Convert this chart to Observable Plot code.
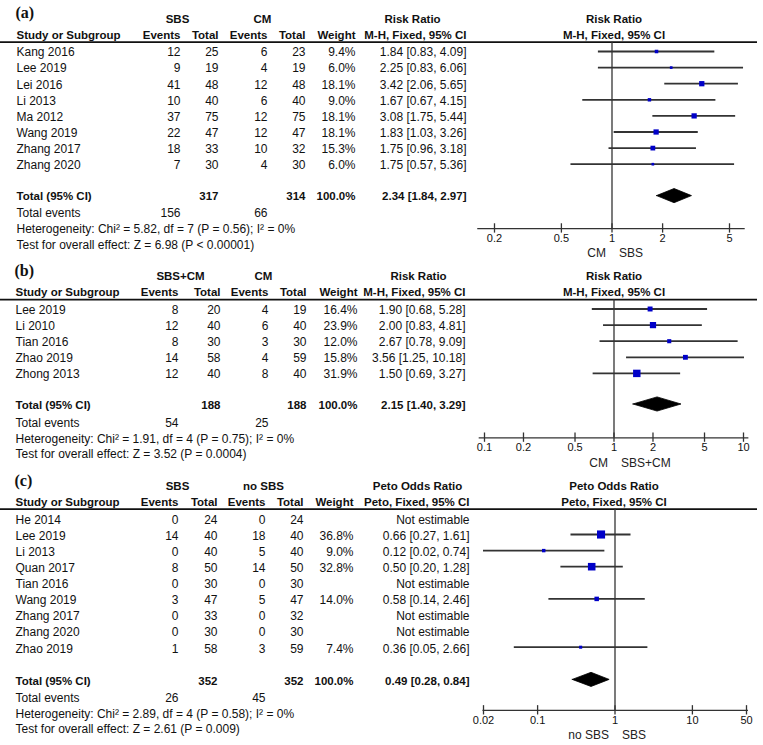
<!DOCTYPE html>
<html>
<head>
<meta charset="utf-8">
<script src="https://cdn.jsdelivr.net/npm/d3@7"></script>
<script src="https://cdn.jsdelivr.net/npm/@observablehq/plot@0.6"></script>
<style>
  html, body { margin: 0; padding: 0; background: #fff; }
  #fig { position: relative; width: 763px; height: 745px; overflow: hidden; background: #fff; }
  .panel { position: absolute; left: 0; width: 763px; }
  .panel svg { position: absolute; top: 0; }
</style>
</head>
<body>
<div id="fig"></div>
<script>
// ---------------- Panel (a) data ----------------
const studiesA   = ["Kang 2016", "Lee 2019", "Lei 2016", "Li 2013", "Ma 2012", "Wang 2019", "Zhang 2017", "Zhang 2020"];
const ev1A       = [12, 9, 41, 10, 37, 22, 18, 7];
const n1A        = [25, 19, 48, 40, 75, 47, 33, 30];
const ev2A       = [6, 4, 12, 6, 12, 12, 10, 4];
const n2A        = [23, 19, 48, 40, 75, 47, 32, 30];
const weightA    = [9.4, 6.0, 18.1, 9.0, 18.1, 18.1, 15.3, 6.0];
const estA       = [1.84, 2.25, 3.42, 1.67, 3.08, 1.83, 1.75, 1.75];
const loA        = [0.83, 0.83, 2.06, 0.67, 1.75, 1.03, 0.96, 0.57];
const hiA        = [4.09, 6.06, 5.65, 4.15, 5.44, 3.26, 3.18, 5.36];
const totalsA    = [317, 314];
const totEventsA = [156, 66];
const pooledA    = [2.34, 1.84, 2.97];
const hetA       = "Heterogeneity: Chi² = 5.82, df = 7 (P = 0.56); I² = 0%";
const testA      = "Test for overall effect: Z = 6.98 (P < 0.00001)";
const ticksA     = [0.2, 0.5, 1, 2, 5];
const tickLabelsA = ["0.2", "0.5", "1", "2", "5"];

// ---------------- Panel (b) data ----------------
const studiesB   = ["Lee 2019", "Li 2010", "Tian 2016", "Zhao 2019", "Zhong 2013"];
const ev1B       = [8, 12, 8, 14, 12];
const n1B        = [20, 40, 30, 58, 40];
const ev2B       = [4, 6, 3, 4, 8];
const n2B        = [19, 40, 30, 59, 40];
const weightB    = [16.4, 23.9, 12.0, 15.8, 31.9];
const estB       = [1.90, 2.00, 2.67, 3.56, 1.50];
const loB        = [0.68, 0.83, 0.78, 1.25, 0.69];
const hiB        = [5.28, 4.81, 9.09, 10.18, 3.27];
const totalsB    = [188, 188];
const totEventsB = [54, 25];
const pooledB    = [2.15, 1.40, 3.29];
const hetB       = "Heterogeneity: Chi² = 1.91, df = 4 (P = 0.75); I² = 0%";
const testB      = "Test for overall effect: Z = 3.52 (P = 0.0004)";
const ticksB     = [0.1, 0.2, 0.5, 1, 2, 5, 10];
const tickLabelsB = ["0.1", "0.2", "0.5", "1", "2", "5", "10"];

// ---------------- Panel (c) data ----------------
const studiesC   = ["He 2014", "Lee 2019", "Li 2013", "Quan 2017", "Tian 2016", "Wang 2019", "Zhang 2017", "Zhang 2020", "Zhao 2019"];
const ev1C       = [0, 14, 0, 8, 0, 3, 0, 0, 1];
const n1C        = [24, 40, 40, 50, 30, 47, 33, 30, 58];
const ev2C       = [0, 18, 5, 14, 0, 5, 0, 0, 3];
const n2C        = [24, 40, 40, 50, 30, 47, 32, 30, 59];
const weightC    = [null, 36.8, 9.0, 32.8, null, 14.0, null, null, 7.4];
const estC       = [null, 0.66, 0.12, 0.50, null, 0.58, null, null, 0.36];
const loC        = [null, 0.27, 0.02, 0.20, null, 0.14, null, null, 0.05];
const hiC        = [null, 1.61, 0.74, 1.28, null, 2.46, null, null, 2.66];
const totalsC    = [352, 352];
const totEventsC = [26, 45];
const pooledC    = [0.49, 0.28, 0.84];
const hetC       = "Heterogeneity: Chi² = 2.89, df = 4 (P = 0.58); I² = 0%";
const testC      = "Test for overall effect: Z = 2.61 (P = 0.009)";
const ticksC     = [0.02, 0.1, 1, 10, 50];
const tickLabelsC = ["0.02", "0.1", "1", "10", "50"];

// ---------------- Layout ----------------
const ROW = 16.1;
const LEFT_W = 470, RIGHT_W = 293;
const SANS = "Liberation Sans, Arial, sans-serif";
const INK = "#111";
const FS = 12, FS_BOLD = 11.5, FS_TICK = 11;

function drawPanel(cfg) {
  const fig = document.getElementById("fig");
  const div = document.createElement("div");
  div.className = "panel";
  div.style.top = cfg.top + "px";
  div.style.height = cfg.height + "px";
  fig.appendChild(div);

  const n = cfg.studies.length;
  const rT = n + cfg.totalGap;
  const axisRow = rT + cfg.axisGap;
  const y0 = cfg.y0 - cfg.top;
  const yScale = {domain: [0, 1], range: [y0, y0 + ROW], axis: null};
  const header1Row = -2.08, header2Row = -1.08, lineRow = -0.58, labelRow = -2.45;

  const rows = cfg.studies.map((s, i) => ({
    row: i, study: s, e1: cfg.ev1[i], n1: cfg.n1[i], e2: cfg.ev2[i], n2: cfg.n2[i],
    w: cfg.weight[i], est: cfg.est[i], lo: cfg.lo[i], hi: cfg.hi[i]
  }));
  const f2 = v => v.toFixed(2);
  const ciText = (e, l, h) => e == null ? "Not estimable" : `${f2(e)} [${f2(l)}, ${f2(h)}]`;
  const C = cfg.cols;

  // table cells
  const cells = [];
  const add = (x, row, text, anchor, bold) => cells.push({x, row, text: String(text), anchor, bold});
  add(C.g1, header1Row, cfg.group1, "middle", true);
  add(C.g2, header1Row, cfg.group2, "middle", true);
  add(C.measure, header1Row, cfg.measure, "middle", true);
  add(C.study, header2Row, "Study or Subgroup", "start", true);
  add(C.e1, header2Row, "Events", "end", true);
  add(C.n1, header2Row, "Total", "end", true);
  add(C.e2, header2Row, "Events", "end", true);
  add(C.n2, header2Row, "Total", "end", true);
  add(C.w, header2Row, "Weight", "end", true);
  add(C.ci, header2Row, cfg.method, "end", true);
  rows.forEach(d => {
    add(C.study, d.row, d.study, "start", false);
    add(C.e1, d.row, d.e1, "end", false);
    add(C.n1, d.row, d.n1, "end", false);
    add(C.e2, d.row, d.e2, "end", false);
    add(C.n2, d.row, d.n2, "end", false);
    if (d.w != null) add(C.w, d.row, d.w.toFixed(1) + "%", "end", false);
    add(C.ci, d.row, ciText(d.est, d.lo, d.hi), "end", false);
  });
  add(C.study, rT, "Total (95% CI)", "start", true);
  add(C.n1, rT, cfg.totals[0], "end", true);
  add(C.n2, rT, cfg.totals[1], "end", true);
  add(C.w, rT, "100.0%", "end", true);
  add(C.ci, rT, ciText(cfg.pooled[0], cfg.pooled[1], cfg.pooled[2]), "end", true);
  add(C.study, rT + cfg.evGap, "Total events", "start", false);
  add(C.e1, rT + cfg.evGap, cfg.totEvents[0], "end", false);
  add(C.e2, rT + cfg.evGap, cfg.totEvents[1], "end", false);
  add(C.study, rT + cfg.hetGap, cfg.het, "start", false);
  add(C.study, rT + cfg.testGap, cfg.test, "start", false);

  const textMarks = [];
  for (const anchor of ["start", "middle", "end"]) {
    for (const bold of [false, true]) {
      const sub = cells.filter(c => c.anchor === anchor && c.bold === bold);
      if (!sub.length) continue;
      textMarks.push(Plot.text(sub, {
        x: "x", y: "row", text: "text", textAnchor: anchor,
        fontWeight: bold ? "bold" : "normal", fontSize: bold ? FS_BOLD : FS, fontFamily: SANS,
        fill: INK, dy: cfg.dy
      }));
    }
  }

  const left = Plot.plot({
    width: LEFT_W, height: cfg.height,
    marginLeft: 0, marginRight: 0, marginTop: 0, marginBottom: 0,
    style: {fontFamily: SANS, fontSize: "12px", background: "transparent", overflow: "visible"},
    x: {domain: [0, LEFT_W], range: [0, LEFT_W], axis: null},
    y: yScale,
    marks: [
      Plot.ruleY([lineRow], {stroke: INK, strokeWidth: 1.7}),
      Plot.text([cfg.label], {x: C.study - 1, y: labelRow, textAnchor: "start",
        fontFamily: "Liberation Serif, Times New Roman, serif", fontWeight: "bold",
        fontSize: 16, fill: INK, dy: cfg.dy}),
      ...textMarks
    ]
  });
  left.style.left = "0px";
  div.appendChild(left);

  // forest
  const withEst = rows.filter(d => d.est != null);
  const [pe, pl, ph] = cfg.pooled;
  const DH = 0.44;
  const diamond = [
    {x: pl, y: rT}, {x: pe, y: rT - DH}, {x: ph, y: rT}, {x: pe, y: rT + DH}, {x: pl, y: rT}
  ];
  const tickData = cfg.ticks.map((t, i) => ({t, label: cfg.tickLabels[i]}));

  const right = Plot.plot({
    width: RIGHT_W, height: cfg.height,
    marginLeft: 0, marginRight: 6, marginTop: 0, marginBottom: 0,
    style: {fontFamily: SANS, fontSize: "12px", background: "transparent", overflow: "visible"},
    x: {type: "log", domain: cfg.xDomain, range: cfg.xRange, axis: null},
    y: yScale,
    r: {type: "pow", exponent: 0.61, domain: [0, 40], range: [0, 4.82]},
    marks: [
      Plot.text([cfg.measure], {frameAnchor: "middle", y: header1Row, fontWeight: "bold",
        fontSize: FS_BOLD, fontFamily: SANS, fill: INK, dy: cfg.dy}),
      Plot.text([cfg.method], {frameAnchor: "middle", y: header2Row, fontWeight: "bold",
        fontSize: FS_BOLD, fontFamily: SANS, fill: INK, dy: cfg.dy}),
      Plot.ruleY([lineRow], {stroke: INK, strokeWidth: 1.7}),
      Plot.ruleX([1], {y1: lineRow, y2: axisRow, stroke: "#333", strokeWidth: 1.3}),
      Plot.ruleY(withEst, {y: "row", x1: "lo", x2: "hi", stroke: "#333", strokeWidth: 1.8}),
      Plot.dot(withEst, {x: "est", y: "row", r: "w", symbol: "square", fill: "#0000c8", stroke: "none"}),
      Plot.line(diamond, {x: "x", y: "y", fill: "#000", stroke: "#000", strokeWidth: 0.8}),
      Plot.ruleY([axisRow], {x1: cfg.axisExtent[0], x2: cfg.axisExtent[1], stroke: "#333", strokeWidth: 1.3}),
      Plot.ruleX(tickData, {x: "t", y1: axisRow - 0.3, y2: axisRow + 0.28, stroke: "#333", strokeWidth: 1.3}),
      Plot.text(tickData, {x: "t", y: axisRow + 0.6, text: "label", fontSize: FS_TICK, fontFamily: SANS, fill: INK}),
      Plot.text([cfg.favL], {x: 1, y: axisRow + 1.55, textAnchor: "end", dx: -6,
        fontSize: FS, fontFamily: SANS, fill: "#222"}),
      Plot.text([cfg.favR], {x: 1, y: axisRow + 1.55, textAnchor: "start", dx: 7,
        fontSize: FS, fontFamily: SANS, fill: "#222"})
    ]
  });
  right.style.left = LEFT_W + "px";
  div.appendChild(right);
}

drawPanel({
  top: 0, height: 258, y0: 51, dy: 1, label: "(a)",
  group1: "SBS", group2: "CM", measure: "Risk Ratio", method: "M-H, Fixed, 95% CI",
  studies: studiesA, ev1: ev1A, n1: n1A, ev2: ev2A, n2: n2A, weight: weightA,
  est: estA, lo: loA, hi: hiA, totals: totalsA, totEvents: totEventsA, pooled: pooledA,
  het: hetA, test: testA, ticks: ticksA, tickLabels: tickLabelsA,
  totalGap: 0.95, evGap: 1.05, hetGap: 2.05, testGap: 3.0, axisGap: 2.05,
  cols: {study: 16, e1: 180, n1: 218, e2: 267, n2: 305, w: 355, ci: 466, g1: 177, g2: 262, measure: 412},
  xDomain: [0.2, 5], xRange: [24, 259], axisExtent: [0.159, 6.2],
  favL: "CM", favR: "SBS"
});

drawPanel({
  top: 258, height: 212, y0: 308.5, dy: 1, label: "(b)",
  group1: "SBS+CM", group2: "CM", measure: "Risk Ratio", method: "M-H, Fixed, 95% CI",
  studies: studiesB, ev1: ev1B, n1: n1B, ev2: ev2B, n2: n2B, weight: weightB,
  est: estB, lo: loB, hi: hiB, totals: totalsB, totEvents: totEventsB, pooled: pooledB,
  het: hetB, test: testB, ticks: ticksB, tickLabels: tickLabelsB,
  totalGap: 0.9, evGap: 1.1, hetGap: 2.1, testGap: 3.05, axisGap: 2.1,
  cols: {study: 15, e1: 178, n1: 220, e2: 268, n2: 306, w: 357, ci: 465, g1: 180, g2: 263, measure: 418},
  xDomain: [0.1, 10], xRange: [14, 273], axisExtent: [0.091, 11],
  favL: "CM", favR: "SBS+CM"
});

drawPanel({
  top: 470, height: 275, y0: 517.9, dy: 1.5, label: "(c)",
  group1: "SBS", group2: "no SBS", measure: "Peto Odds Ratio", method: "Peto, Fixed, 95% CI",
  studies: studiesC, ev1: ev1C, n1: n1C, ev2: ev2C, n2: n2C, weight: weightC,
  est: estC, lo: loC, hi: hiC, totals: totalsC, totEvents: totEventsC, pooled: pooledC,
  het: hetC, test: testC, ticks: ticksC, tickLabels: tickLabelsC,
  totalGap: 1.0, evGap: 1.05, hetGap: 2.05, testGap: 2.97, axisGap: 1.93,
  cols: {study: 15, e1: 178, n1: 217, e2: 265, n2: 303, w: 353, ci: 469, g1: 177, g2: 263, measure: 417},
  xDomain: [0.02, 50], xRange: [13, 276], axisExtent: [0.0197, 53],
  favL: "no SBS", favR: "SBS"
});
</script>
</body>
</html>
